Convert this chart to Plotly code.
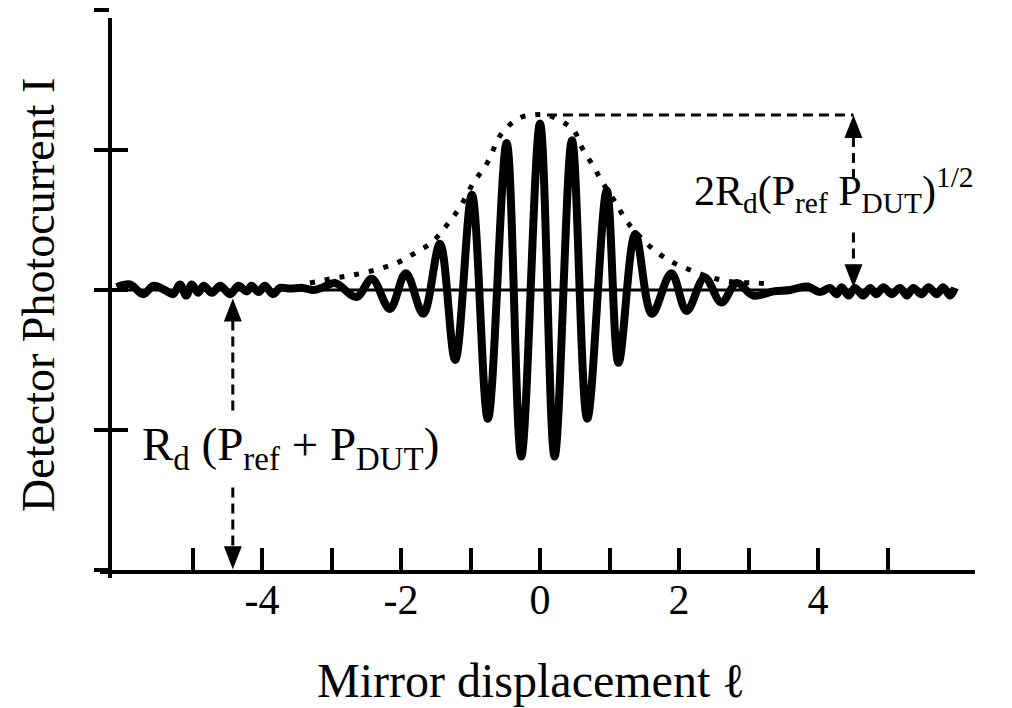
import plotly.graph_objects as go

# ---------------- data ----------------
# Interferogram (detector photocurrent vs mirror displacement), extrema and noise samples
wave_x = [-6.09, -5.90, -5.71, -5.56, -5.40, -5.28, -5.18, -5.09, -5.01, -4.92,
          -4.84, -4.72, -4.60, -4.46, -4.34, -4.22, -4.15, -4.05, -3.96, -3.84,
          -3.74, -3.60, -3.41, -3.26, -3.12,
          -2.95, -2.64, -2.42, -2.16, -1.93, -1.68, -1.44, -1.22, -0.98, -0.75,
          -0.48, -0.27, 0.00, 0.21, 0.46, 0.68, 0.96, 1.13, 1.37, 1.61,
          1.89, 2.11, 2.37, 2.61, 2.83, 3.07,
          3.36, 3.60, 3.84, 4.03, 4.17, 4.27, 4.34, 4.44, 4.53, 4.65,
          4.75, 4.84, 4.94, 5.06, 5.18, 5.28, 5.37, 5.49, 5.59, 5.71,
          5.80, 5.90, 5.97]
wave_y = [0.02, 0.04, -0.03, 0.03, 0.00, -0.03, 0.04, -0.04, 0.04, -0.02,
          0.03, -0.02, 0.03, -0.03, 0.03, -0.01, 0.03, -0.015, 0.03, -0.03,
          0.015, 0.01, 0.015, 0.00, 0.02,
          0.05, -0.05, 0.08, -0.135, 0.12, -0.17, 0.33, -0.50, 0.68, -0.92,
          1.05, -1.19, 1.19, -1.19, 1.07, -0.92, 0.71, -0.52, 0.40, -0.17,
          0.12, -0.15, 0.09, -0.09, 0.05, -0.04,
          -0.01, 0.00, 0.025, -0.015, 0.015, -0.03, 0.02, -0.04, 0.015, -0.04,
          0.015, -0.03, 0.02, -0.03, 0.015, -0.04, 0.015, -0.03, 0.02, -0.03,
          0.02, -0.04, 0.015]

# Dotted envelope
env_x = [-3.31, -2.95, -2.69, -2.37, -2.06, -1.80, -1.55, -1.34, -1.15, -0.96,
         -0.76, -0.55, -0.29, -0.10, 0.10, 0.36, 0.50, 0.60, 0.76, 0.91,
         1.08, 1.25, 1.44, 1.68, 1.94, 2.23, 2.49, 2.78, 3.12, 3.31]
env_y = [0.05, 0.086, 0.107, 0.143, 0.193, 0.264, 0.343, 0.464, 0.593, 0.764,
         0.907, 1.12, 1.23, 1.25, 1.25, 1.19, 1.13, 1.02, 0.89, 0.76,
         0.63, 0.49, 0.38, 0.27, 0.19, 0.13, 0.086, 0.057, 0.05, 0.043]

x_tick_vals = [-5, -4, -3, -2, -1, 0, 1, 2, 3, 4, 5]
x_tick_text = ["", "-4", "", "-2", "", "0", "", "2", "", "4", ""]
y_tick_vals = [-2, -1, 0, 1, 2]

x_title = "Mirror displacement \u2113"
y_title = "Detector Photocurrent I"
label_dc = "R<sub>d</sub> (P<sub>ref</sub> + P<sub>DUT</sub>)"
label_ac = "2R<sub>d</sub>(P<sub>ref</sub> P<sub>DUT</sub>)<sup>1/2</sup>"

# annotation anchor values (data units)
peak_level = 1.25
peak_start_x = 0.10
ac_arrow_x = 4.51
ac_gap = (0.41, 0.76)
dc_arrow_x = -4.42
dc_top = -0.06
dc_gap = (-1.41, -0.87)
zero_end_x = 5.97

# ---------------- geometry ----------------
W, H = 1012, 708
ML, MR, MT, MB = 110, 37, 10, 138
PW, PH = W - ML - MR, H - MT - MB
X_RANGE = [-6.187, 6.259]
Y_RANGE = [-2.0, 2.0]
FONT = "Liberation Serif, Times New Roman, serif"


def px_x(px):
    return (px - ML) / PW


def px_y(py):
    return (H - MB - py) / PH


fig = go.Figure()
fig.add_trace(go.Scatter(x=wave_x, y=wave_y, mode="lines",
                         line=dict(color="black", width=8, shape="spline", smoothing=1.0),
                         hoverinfo="skip", showlegend=False))
fig.add_trace(go.Scatter(x=env_x, y=env_y, mode="lines", yaxis="y2",
                         line=dict(color="black", width=5, dash="5px,10px", shape="spline"),
                         hoverinfo="skip", showlegend=False))

shapes = []
# axis lines
shapes.append(dict(type="line", xref="paper", yref="paper", x0=px_x(100), x1=px_x(975),
                   y0=px_y(572), y1=px_y(572), line=dict(color="black", width=4)))
shapes.append(dict(type="line", xref="paper", yref="paper", x0=px_x(110), x1=px_x(110),
                   y0=px_y(578), y1=px_y(18), line=dict(color="black", width=4)))
# zero reference line
shapes.append(dict(type="line", xref="x", yref="y", x0=X_RANGE[0], x1=zero_end_x, y0=0, y1=0,
                   line=dict(color="black", width=3)))
dash = "10px,6px"
# horizontal dashed line from envelope peak
shapes.append(dict(type="line", xref="x", yref="y", x0=peak_start_x, x1=ac_arrow_x,
                   y0=peak_level, y1=peak_level, line=dict(color="black", width=3, dash=dash)))
ah = 22 / 140.0
# AC arrow vertical dashed segments
shapes.append(dict(type="line", xref="x", yref="y", x0=ac_arrow_x, x1=ac_arrow_x,
                   y0=peak_level - ah, y1=ac_gap[1], line=dict(color="black", width=3, dash=dash)))
shapes.append(dict(type="line", xref="x", yref="y", x0=ac_arrow_x, x1=ac_arrow_x,
                   y0=ac_gap[0], y1=ah, line=dict(color="black", width=3, dash=dash)))
# DC arrow vertical dashed segments
shapes.append(dict(type="line", xref="x", yref="y", x0=dc_arrow_x, x1=dc_arrow_x,
                   y0=dc_top - ah, y1=dc_gap[1], line=dict(color="black", width=3, dash=dash)))
shapes.append(dict(type="line", xref="x", yref="y", x0=dc_arrow_x, x1=dc_arrow_x,
                   y0=dc_gap[0], y1=Y_RANGE[0] + ah, line=dict(color="black", width=3, dash=dash)))


def arrowhead(xa, ya, up):
    s = -1 if up else 1
    return dict(type="path", xref="x", yref="y", xsizemode="pixel", ysizemode="pixel",
                xanchor=xa, yanchor=ya,
                path=f"M0,0 L-9,{s*23} L9,{s*23} Z",
                fillcolor="black", line=dict(width=0))


shapes.append(arrowhead(ac_arrow_x, peak_level, True))
shapes.append(arrowhead(ac_arrow_x, 0.02, False))
shapes.append(arrowhead(dc_arrow_x, dc_top, True))
shapes.append(arrowhead(dc_arrow_x, Y_RANGE[0] + 0.005, False))

annotations = [
    dict(text=y_title, xref="paper", yref="paper", x=px_x(38), y=px_y(295), textangle=-90,
         showarrow=False, xanchor="center", yanchor="middle",
         font=dict(family=FONT, size=46, color="black")),
    dict(text=x_title, xref="paper", yref="paper", x=px_x(531), y=px_y(680),
         showarrow=False, xanchor="center", yanchor="middle",
         font=dict(family=FONT, size=48, color="black")),
    dict(text=label_dc, xref="paper", yref="paper", x=px_x(140), y=px_y(447),
         showarrow=False, xanchor="left", yanchor="middle",
         font=dict(family=FONT, size=47, color="black")),
    dict(text=label_ac, xref="paper", yref="paper", x=px_x(692), y=px_y(190),
         showarrow=False, xanchor="left", yanchor="middle",
         font=dict(family=FONT, size=42, color="black")),
]

fig.update_layout(
    width=W, height=H,
    margin=dict(l=ML, r=MR, t=MT, b=MB, pad=0),
    paper_bgcolor="white", plot_bgcolor="white",
    showlegend=False,
    shapes=shapes,
    annotations=annotations,
    xaxis=dict(range=X_RANGE, showline=False, showgrid=False, zeroline=False,
               tickmode="array", tickvals=x_tick_vals, ticktext=x_tick_text,
               ticks="inside", ticklen=22, tickwidth=4, tickcolor="black",
               tickfont=dict(family=FONT, size=42, color="black"),
               ticklabelstandoff=1, fixedrange=True),
    yaxis=dict(range=Y_RANGE, showline=False, showgrid=False, zeroline=False,
               tickmode="array", tickvals=y_tick_vals, showticklabels=False,
               ticks="outside", ticklen=15, tickwidth=4, tickcolor="black", fixedrange=True),
    yaxis2=dict(range=Y_RANGE, overlaying="y", side="left", anchor="x",
                showline=False, showgrid=False, zeroline=False,
                tickmode="array", tickvals=y_tick_vals, showticklabels=False,
                ticks="inside", ticklen=18, tickwidth=4, tickcolor="black", fixedrange=True),
)

fig.write_html("out.html")
